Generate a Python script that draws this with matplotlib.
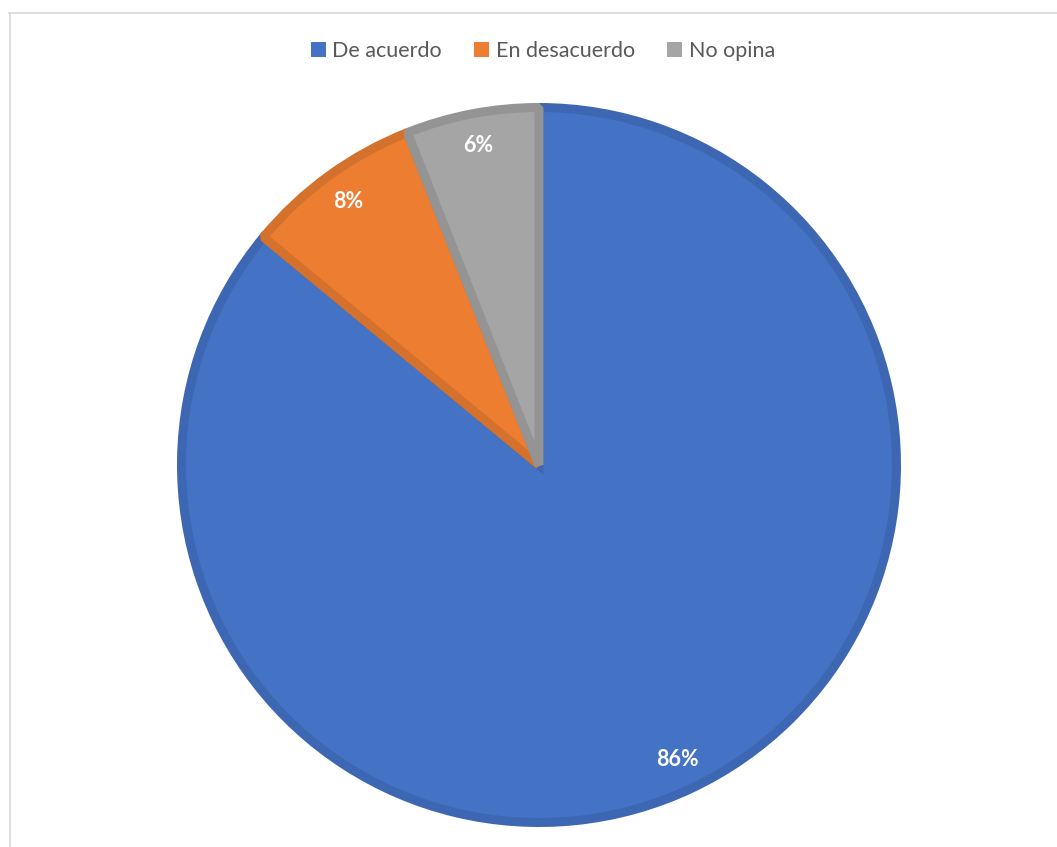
import matplotlib
matplotlib.use("Agg")
import matplotlib.pyplot as plt
from matplotlib.lines import Line2D
from matplotlib.patches import Patch

categories = ["De acuerdo", "En desacuerdo", "No opina"]
values = [86, 8, 6]
face_colors = ["#4472C4", "#ED7D31", "#A5A5A5"]
edge_colors = ["#3D67B2", "#D4712D", "#949494"]

plt.rcParams["font.family"] = ["Lato", "DejaVu Sans"]

W, H = 1057, 847
fig = plt.figure(figsize=(W / 100, H / 100), dpi=100)
ax = fig.add_axes([0, 0, 1, 1])

# centre and radius in pixels (y measured from bottom)
cx, cy, r_out = 539, H - 465, 362
lw_px = 9
r = r_out - lw_px / 2

wedges, texts, autotexts = ax.pie(
    values, colors=face_colors, startangle=90, counterclock=False,
    center=(cx, cy), radius=r, autopct="%1.0f%%", pctdistance=0.91,
    wedgeprops=dict(linewidth=lw_px * 72 / 100, joinstyle="miter"),
    textprops=dict(color="white", fontsize=15.5, fontweight="bold"))
for i, (w, ec) in enumerate(zip(wedges, edge_colors)):
    w.set_edgecolor(ec)
    if i > 0:
        w.set_joinstyle("bevel")  # avoid long miter spikes on thin wedges

# pie() resets limits, so set pixel-space limits afterwards
ax.set_xlim(0, W)
ax.set_ylim(0, H)
ax.set_aspect("equal")
ax.axis("off")

handles = [Patch(facecolor=c, edgecolor="none") for c in face_colors]
fig.legend(handles, categories, loc="center", ncol=3,
           bbox_to_anchor=(543 / W, 1 - 51 / H), frameon=False,
           handlelength=0.7, handleheight=0.7, handletextpad=0.3,
           columnspacing=1.5, fontsize=15.5, labelcolor="#595959")

# outer chart frame (only top and left edges visible)
fig.add_artist(Line2D([9 / W, 1], [1 - 13.5 / H, 1 - 13.5 / H],
                      transform=fig.transFigure, color="#D9D9D9", lw=1.2))
fig.add_artist(Line2D([9.5 / W, 9.5 / W], [0, 1 - 13 / H],
                      transform=fig.transFigure, color="#D9D9D9", lw=1.2))

fig.savefig("out.png", dpi=100)
